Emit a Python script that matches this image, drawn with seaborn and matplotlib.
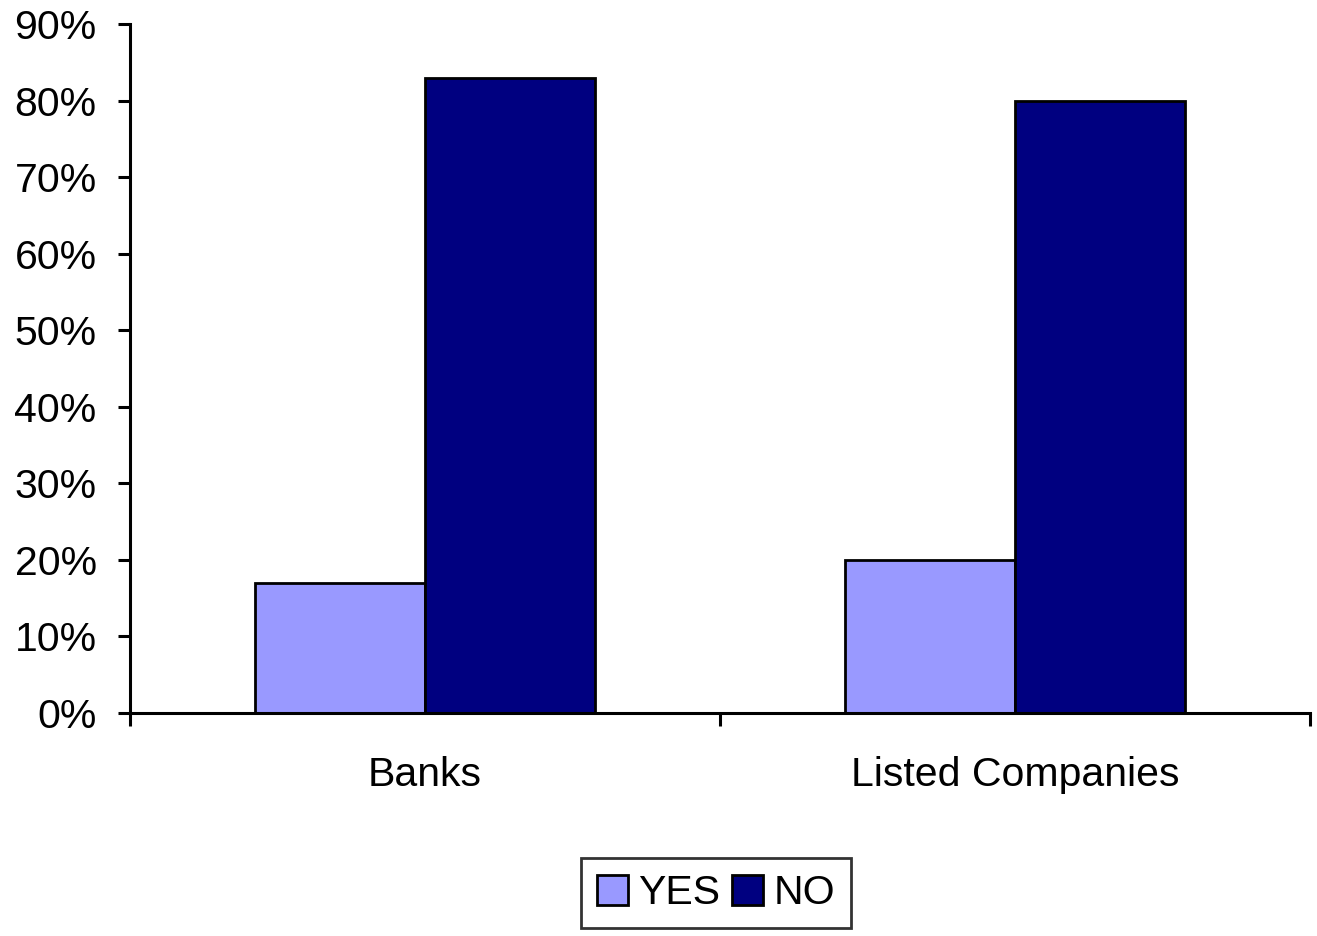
import matplotlib
matplotlib.use("Agg")
import matplotlib.pyplot as plt
import seaborn as sns
import pandas as pd
from matplotlib.ticker import FixedLocator, FuncFormatter
from matplotlib.patches import Patch

categories = ["Banks", "Listed Companies"]
series_names = ["YES", "NO"]
yes_values = [17, 20]
no_values = [83, 80]
y_ticks = [0, 10, 20, 30, 40, 50, 60, 70, 80, 90]

df = pd.DataFrame({
    "category": categories * 2,
    "answer": ["YES"] * len(categories) + ["NO"] * len(categories),
    "value": yes_values + no_values,
})

sns.set_theme(style="white")
plt.rcParams["font.family"] = ["Liberation Sans", "DejaVu Sans"]
plt.rcParams["text.color"] = "black"
plt.rcParams["xtick.color"] = "black"
plt.rcParams["ytick.color"] = "black"
plt.rcParams["xtick.labelcolor"] = "black"
plt.rcParams["ytick.labelcolor"] = "black"

W, H = 1317, 936
fig = plt.figure(figsize=(W / 100, H / 100), dpi=100)
ax = fig.add_axes([130 / W, (H - 713) / H, (1310 - 130) / W, (713 - 24) / H])

palette = {"YES": "#9999FF", "NO": "#000080"}
sns.barplot(data=df, x="category", y="value", hue="answer", order=categories,
            hue_order=series_names, palette=palette, width=0.576, saturation=1,
            edgecolor="black", linewidth=2, ax=ax, legend=False)

ax.set_xlim(-0.5, 1.5)
ax.set_ylim(0, 90)
ax.yaxis.set_major_locator(FixedLocator(y_ticks))
ax.yaxis.set_major_formatter(FuncFormatter(lambda v, p: f"{int(v)}%"))
ax.set_xlabel("")
ax.set_ylabel("")

for s in ["top", "right"]:
    ax.spines[s].set_visible(False)
for s in ["left", "bottom"]:
    ax.spines[s].set_linewidth(2.2)
    ax.spines[s].set_color("black")

ax.tick_params(axis="y", which="major", direction="out", length=9, width=2.2,
               color="black", labelcolor="black", labelsize=29.5, pad=15, left=True)
ax.tick_params(axis="x", which="major", length=0, labelsize=29.5, pad=31,
               labelcolor="black")
ax.xaxis.set_minor_locator(FixedLocator([-0.5, 0.5, 1.5]))
ax.tick_params(axis="x", which="minor", direction="out", length=9, width=2.2,
               color="black", bottom=True)

handles = [Patch(facecolor=palette[n], edgecolor="black", linewidth=2, label=n)
           for n in series_names]
leg = fig.legend(handles=handles, loc="center", bbox_to_anchor=(716 / W, 1 - 893 / H),
                 ncol=2, fontsize=29.5, frameon=True, fancybox=False,
                 handlelength=0.75, handleheight=0.75, handletextpad=0.25,
                 columnspacing=0.3, borderpad=0.4, borderaxespad=0,
                 labelcolor="black")
leg.get_frame().set_edgecolor("black")
leg.get_frame().set_linewidth(2)

fig.savefig("out.png", dpi=100, facecolor="white")
